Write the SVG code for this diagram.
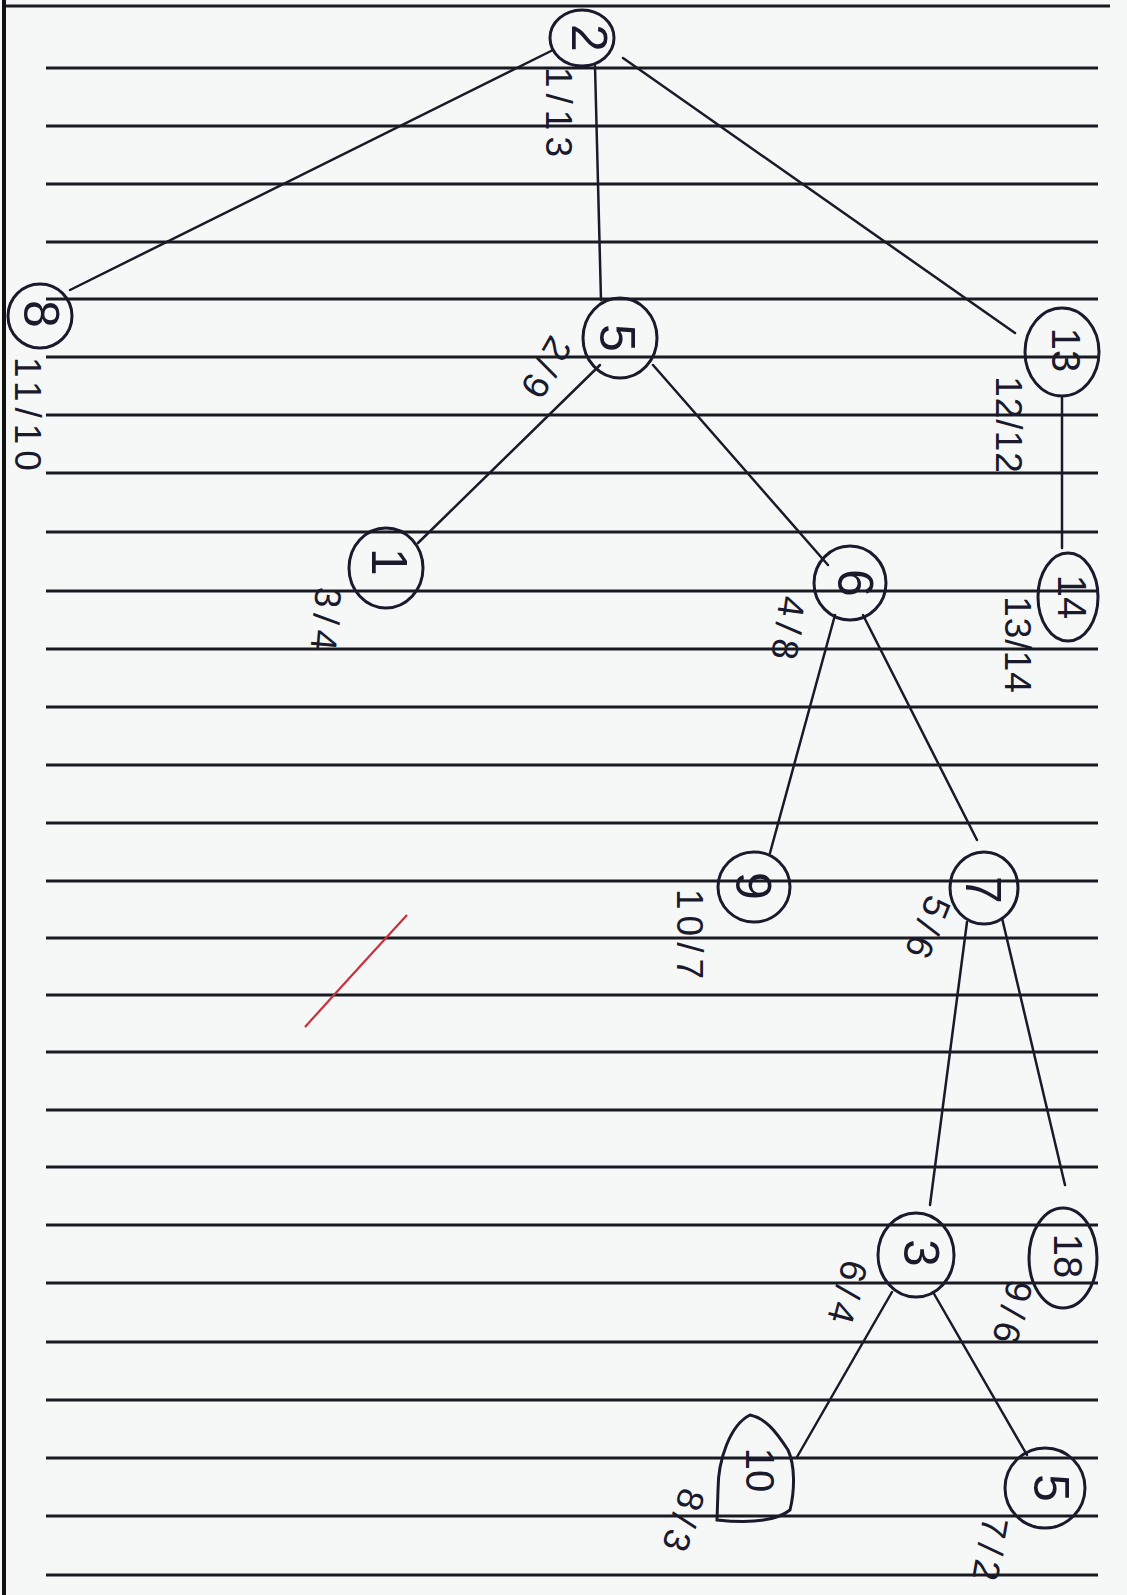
<svg xmlns="http://www.w3.org/2000/svg" width="1127" height="1595" viewBox="0 0 1127 1595">
<style>
.rule{stroke:#1a1a22;stroke-width:3}
.edge{stroke:#1a1a28;stroke-width:2.5;fill:none;stroke-linecap:round}
.ring{fill:none;stroke:#1a1a2c;stroke-width:3}
.num{font-family:"Liberation Sans",sans-serif;font-size:50px;fill:#1a1a2c;text-anchor:middle}
.num2{font-size:40px}
.lbl{font-family:"Liberation Sans",sans-serif;font-size:37px;fill:#1a1a2c;text-anchor:middle;letter-spacing:6px}
</style>
<rect width="1127" height="1595" fill="#f6f8f8"/>
<g id="paper">
<line class="rule" x1="4" y1="6" x2="1110" y2="6"/>
<line class="rule" x1="46" y1="68" x2="1098" y2="68"/>
<line class="rule" x1="46" y1="126" x2="1098" y2="126"/>
<line class="rule" x1="46" y1="184" x2="1098" y2="184"/>
<line class="rule" x1="46" y1="242" x2="1098" y2="242"/>
<line class="rule" x1="46" y1="299" x2="1098" y2="299"/>
<line class="rule" x1="46" y1="357" x2="1098" y2="357"/>
<line class="rule" x1="46" y1="415" x2="1098" y2="415"/>
<line class="rule" x1="46" y1="473" x2="1098" y2="473"/>
<line class="rule" x1="46" y1="532" x2="1098" y2="532"/>
<line class="rule" x1="46" y1="591" x2="1098" y2="591"/>
<line class="rule" x1="46" y1="649" x2="1098" y2="649"/>
<line class="rule" x1="46" y1="707" x2="1098" y2="707"/>
<line class="rule" x1="46" y1="765" x2="1098" y2="765"/>
<line class="rule" x1="46" y1="823" x2="1098" y2="823"/>
<line class="rule" x1="46" y1="881" x2="1098" y2="881"/>
<line class="rule" x1="46" y1="938" x2="1098" y2="938"/>
<line class="rule" x1="46" y1="995" x2="1098" y2="995"/>
<line class="rule" x1="46" y1="1052" x2="1098" y2="1052"/>
<line class="rule" x1="46" y1="1110" x2="1098" y2="1110"/>
<line class="rule" x1="46" y1="1167" x2="1098" y2="1167"/>
<line class="rule" x1="46" y1="1225" x2="1098" y2="1225"/>
<line class="rule" x1="46" y1="1283" x2="1098" y2="1283"/>
<line class="rule" x1="46" y1="1342" x2="1098" y2="1342"/>
<line class="rule" x1="46" y1="1400" x2="1098" y2="1400"/>
<line class="rule" x1="46" y1="1458" x2="1098" y2="1458"/>
<line class="rule" x1="46" y1="1516" x2="1098" y2="1516"/>
<line class="rule" x1="46" y1="1575" x2="1098" y2="1575"/>
<line x1="4" y1="0" x2="4" y2="1595" stroke="#111" stroke-width="4"/>
<path d="M305,1027 Q352,975 407,915" fill="none" stroke="#c8303c" stroke-width="2.2"/>
</g>
<g id="connectors">
<line class="edge" x1="553" y1="50" x2="70" y2="290"/>
<line class="edge" x1="595" y1="66" x2="601" y2="300"/>
<line class="edge" x1="623" y1="58" x2="1015" y2="333"/>
<line class="edge" x1="1062" y1="398" x2="1062" y2="548"/>
<line class="edge" x1="600" y1="365" x2="418" y2="543"/>
<line class="edge" x1="653" y1="365" x2="828" y2="565"/>
<line class="edge" x1="835" y1="615" x2="770" y2="853"/>
<line class="edge" x1="863" y1="615" x2="977" y2="840"/>
<line class="edge" x1="967" y1="922" x2="930" y2="1205"/>
<line class="edge" x1="1002" y1="918" x2="1065" y2="1185"/>
<line class="edge" x1="892" y1="1292" x2="797" y2="1457"/>
<line class="edge" x1="933" y1="1292" x2="1027" y2="1455"/>
</g>
<g id="node-2">
<ellipse class="ring" cx="582" cy="38" rx="32" ry="28"/>
<text class="num" transform="translate(590,38) rotate(90)" y="18">2</text>
<text class="lbl" transform="translate(559,115) rotate(90)" y="13">1/13</text>
</g>
<g id="node-8">
<ellipse class="ring" cx="40" cy="316" rx="32" ry="32"/>
<text class="num" transform="translate(42,314) rotate(90)" y="18">8</text>
<text class="lbl" transform="translate(28,417) rotate(90)" y="13">11/10</text>
</g>
<g id="node-5">
<ellipse class="ring" cx="620" cy="338" rx="37" ry="40"/>
<text class="num" transform="translate(618,338) rotate(90)" y="18">5</text>
<text class="lbl" transform="translate(545,370) rotate(120)" y="13">2/9</text>
</g>
<g id="node-13">
<ellipse class="ring" cx="1062" cy="352" rx="37" ry="44"/>
<text class="num num2" transform="translate(1066,350) rotate(90)" y="14">13</text>
<text class="lbl" transform="translate(1009,425) rotate(90)" y="13" style="letter-spacing:1px">12/12</text>
</g>
<g id="node-14">
<ellipse class="ring" cx="1068" cy="597" rx="30" ry="44"/>
<text class="num num2" transform="translate(1072,597) rotate(90)" y="14">14</text>
<text class="lbl" transform="translate(1018,645) rotate(90)" y="13" style="letter-spacing:1px">13/14</text>
</g>
<g id="node-1">
<ellipse class="ring" cx="386" cy="568" rx="37" ry="40"/>
<text class="num" transform="translate(390,562) rotate(90)" y="18">1</text>
<text class="lbl" transform="translate(326,622) rotate(95)" y="13">3/4</text>
</g>
<g id="node-6">
<ellipse class="ring" cx="850" cy="583" rx="36" ry="37"/>
<text class="num" transform="translate(856,583) rotate(90)" y="18">6</text>
<text class="lbl" transform="translate(788,631) rotate(98)" y="13">4/8</text>
</g>
<g id="node-9">
<ellipse class="ring" cx="754" cy="887" rx="36" ry="35"/>
<text class="num" transform="translate(754,886) rotate(90)" y="18">9</text>
<text class="lbl" transform="translate(690,937) rotate(90)" y="13">10/7</text>
</g>
<g id="node-7">
<ellipse class="ring" cx="984" cy="888" rx="34" ry="36"/>
<text class="num" transform="translate(984,890) rotate(90)" y="18">7</text>
<text class="lbl" transform="translate(927,930) rotate(112)" y="13">5/6</text>
</g>
<g id="node-3">
<ellipse class="ring" cx="916" cy="1255" rx="38" ry="42"/>
<text class="num" transform="translate(922,1253) rotate(90)" y="18">3</text>
<text class="lbl" transform="translate(847,1295) rotate(105)" y="13">6/4</text>
</g>
<g id="node-18">
<ellipse class="ring" cx="1063" cy="1258" rx="34" ry="50"/>
<text class="num num2" transform="translate(1068,1256) rotate(90)" y="14">18</text>
<text class="lbl" transform="translate(1012,1315) rotate(105)" y="13">9/6</text>
</g>
<g id="node-10">
<path class="ring" d="M750,1415 C730,1425 718,1460 718,1490 L717,1520 C745,1523 775,1522 790,1510 C795,1490 795,1465 788,1450 C775,1430 765,1418 750,1415 Z"/>
<text class="num num2" transform="translate(760,1470) rotate(90)" y="14">10</text>
<text class="lbl" transform="translate(683,1523) rotate(108)" y="13">8/3</text>
</g>
<g id="node-5b">
<ellipse class="ring" cx="1045" cy="1488" rx="40" ry="40"/>
<text class="num" transform="translate(1052,1488) rotate(90)" y="18">5</text>
<text class="lbl" transform="translate(990,1552) rotate(100)" y="13">7/2</text>
</g>
</svg>
